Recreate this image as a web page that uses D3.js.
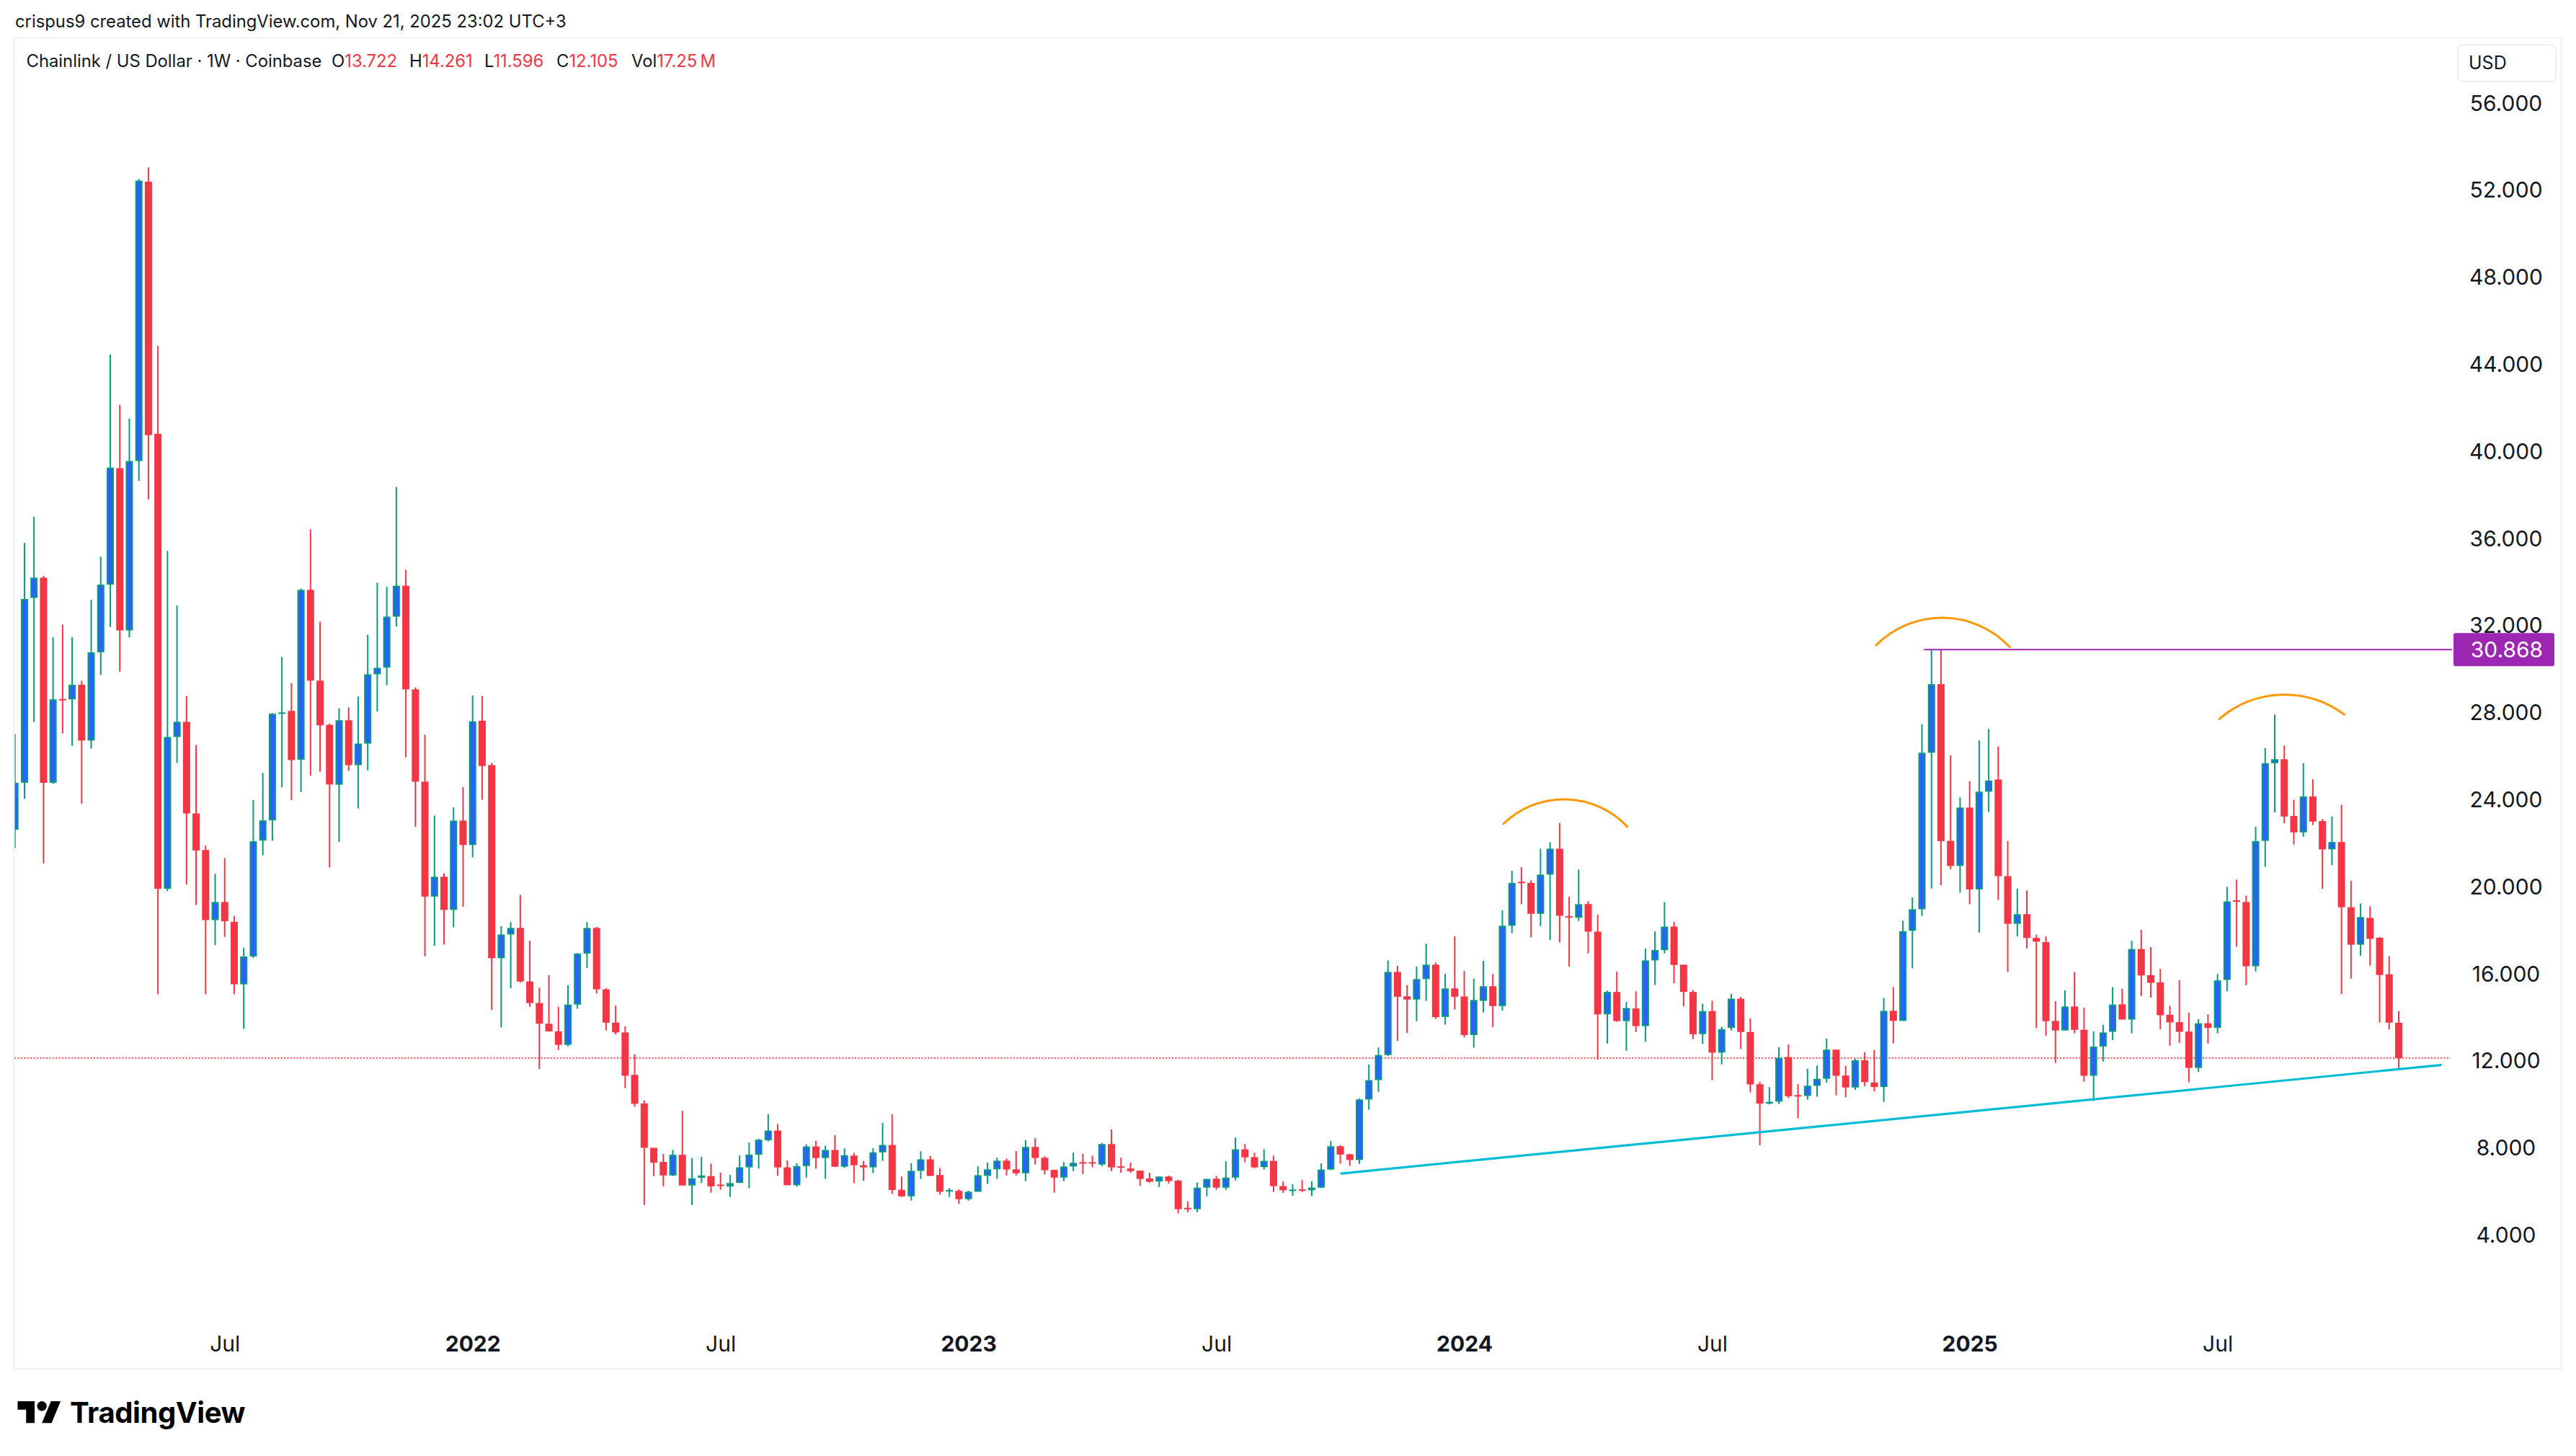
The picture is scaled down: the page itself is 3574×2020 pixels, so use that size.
<!DOCTYPE html>
<html>
<head>
<meta charset="utf-8">
<script src="https://cdn.jsdelivr.net/npm/d3@7"></script>
<style>
  body { margin: 0; background: #fff; }
  text { font-family: Inter, Roboto, "Noto Sans", sans-serif; }
</style>
</head>
<body>
<script>
// Chainlink / US Dollar, weekly candles from Coinbase (Feb 2021 - Nov 2025)
var firstWeek = "2021-02-01", lastWeek = "2025-11-18";

var open = [
  22.59, 24.75, 33.24, 34.17, 24.75, 28.60, 28.58, 29.25, 26.69, 30.74,
  33.85, 39.20, 31.75, 39.53, 52.36, 40.78, 19.88, 26.85, 27.55, 23.34,
  21.66, 18.44, 19.27, 18.36, 15.49, 16.77, 22.09, 23.02, 27.95, 28.05,
  25.81, 33.61, 29.44, 27.41, 24.66, 27.62, 25.56, 26.55, 29.73, 30.04,
  32.38, 33.80, 29.04, 24.80, 19.52, 20.43, 18.91, 23.01, 21.89, 27.60,
  25.56, 16.69, 17.78, 18.08, 15.62, 14.63, 13.68, 13.33, 12.71, 14.56,
  16.90, 18.08, 15.26, 13.73, 13.28, 11.33, 10.02, 7.98, 7.33, 6.71,
  7.66, 6.25, 6.60, 6.68, 6.29, 6.20, 6.37, 7.08, 7.66, 8.33,
  8.77, 7.08, 6.26, 7.14, 8.04, 7.51, 7.88, 7.11, 7.62, 7.18,
  7.08, 7.77, 8.11, 6.05, 5.75, 6.92, 7.45, 6.73, 5.99, 6.00,
  5.62, 5.96, 6.69, 6.99, 7.39, 6.99, 6.81, 8.02, 7.52, 6.96,
  6.61, 7.12, 7.32, 7.32, 7.21, 8.15, 7.13, 7.03, 6.93, 6.57,
  6.43, 6.66, 6.47, 5.22, 5.16, 6.15, 6.56, 6.15, 6.61, 7.91,
  7.55, 7.09, 7.38, 6.22, 6.05, 6.07, 6.03, 6.15, 6.98, 8.05,
  7.68, 7.42, 10.20, 11.09, 12.24, 16.06, 14.94, 14.79, 15.73, 16.39,
  13.99, 15.30, 14.93, 13.16, 14.73, 15.40, 14.49, 18.18, 20.20, 20.15,
  18.73, 20.53, 21.72, 18.62, 18.55, 19.18, 17.91, 14.11, 15.14, 13.80,
  14.38, 13.57, 16.59, 17.06, 18.14, 16.39, 15.14, 13.20, 14.26, 12.35,
  13.49, 14.83, 13.30, 10.90, 10.01, 10.10, 12.15, 10.40, 10.36, 10.83,
  11.15, 12.49, 11.30, 10.75, 12.00, 10.98, 10.77, 14.27, 13.81, 17.95,
  18.94, 26.13, 29.28, 22.08, 20.93, 23.61, 19.85, 24.34, 24.90, 20.46,
  18.27, 18.71, 17.62, 17.43, 13.81, 13.37, 14.47, 13.40, 11.29, 12.63,
  13.31, 14.57, 13.87, 17.11, 15.91, 15.58, 14.09, 13.75, 13.32, 11.65,
  13.70, 13.49, 15.69, 19.35, 19.27, 16.32, 22.08, 25.65, 25.83, 23.22,
  22.47, 24.12, 22.99, 21.69, 22.03, 19.03, 17.31, 18.54, 17.63, 15.95,
  13.722
];
var high = [
  26.99, 35.77, 36.97, 34.25, 31.43, 32.02, 31.43, 29.44, 33.16, 35.13,
  44.42, 42.11, 41.49, 52.49, 53.02, 44.82, 35.40, 32.89, 28.72, 26.48,
  21.87, 20.57, 21.29, 18.63, 17.17, 23.95, 25.20, 27.95, 30.53, 29.33,
  33.67, 36.38, 32.15, 27.47, 28.17, 28.21, 28.71, 31.55, 33.94, 33.75,
  38.34, 34.53, 29.13, 26.96, 23.24, 20.59, 23.62, 24.55, 28.76, 28.73,
  25.66, 18.16, 18.35, 19.60, 17.49, 15.34, 15.91, 14.46, 15.45, 16.93,
  18.35, 18.13, 15.31, 14.51, 13.56, 12.28, 10.16, 7.98, 7.69, 7.88,
  9.68, 7.51, 7.56, 7.25, 6.84, 6.73, 7.63, 8.22, 8.40, 9.52,
  9.08, 7.40, 7.27, 8.14, 8.30, 8.08, 8.56, 7.95, 7.75, 7.38,
  7.96, 9.12, 9.52, 6.66, 7.27, 7.82, 7.61, 7.05, 6.13, 6.07,
  6.01, 7.13, 7.30, 7.53, 7.49, 7.83, 8.33, 8.42, 7.59, 6.98,
  7.32, 7.76, 7.70, 7.62, 8.21, 8.82, 7.53, 7.30, 6.93, 6.83,
  6.66, 6.70, 6.51, 5.51, 6.39, 6.55, 6.69, 7.36, 8.45, 8.15,
  7.75, 7.92, 7.62, 6.43, 6.32, 6.50, 6.44, 7.26, 8.29, 8.10,
  7.71, 10.24, 11.81, 12.59, 16.59, 16.34, 15.45, 16.31, 17.36, 16.49,
  15.97, 17.70, 16.10, 15.75, 16.57, 15.97, 18.89, 20.71, 20.87, 20.27,
  21.72, 22.02, 22.90, 19.51, 20.76, 19.31, 18.69, 15.20, 16.07, 14.68,
  15.17, 17.14, 17.92, 19.26, 18.36, 16.39, 15.23, 14.60, 14.74, 13.54,
  15.05, 14.91, 13.92, 11.01, 10.77, 12.60, 12.73, 10.90, 11.61, 11.75,
  13.00, 12.49, 11.75, 12.06, 12.37, 12.48, 14.86, 15.36, 18.41, 19.48,
  27.44, 30.868, 30.84, 26.01, 24.08, 24.82, 26.69, 27.22, 26.42, 22.08,
  19.88, 19.80, 17.77, 17.69, 14.71, 15.21, 16.05, 14.42, 13.33, 13.63,
  15.36, 15.29, 17.49, 17.99, 17.20, 16.20, 14.50, 15.68, 14.19, 13.89,
  14.12, 15.96, 19.97, 20.30, 19.57, 22.72, 26.35, 27.88, 26.46, 23.97,
  25.65, 24.91, 23.08, 23.19, 23.74, 20.24, 19.20, 19.07, 17.67, 16.78,
  14.261
];
var low = [
  21.74, 24.01, 27.55, 21.05, 24.70, 27.01, 26.45, 23.79, 26.32, 29.70,
  31.91, 29.86, 31.43, 38.62, 37.77, 15.03, 19.77, 25.66, 20.07, 19.13,
  15.03, 17.30, 17.67, 15.03, 13.44, 16.70, 21.42, 22.09, 24.54, 23.95,
  24.32, 25.07, 25.26, 20.86, 22.03, 25.30, 23.57, 25.32, 28.02, 29.23,
  31.93, 25.92, 22.72, 16.78, 17.26, 17.32, 18.11, 19.05, 21.32, 23.97,
  14.32, 13.51, 15.31, 15.57, 14.46, 11.60, 13.32, 12.47, 12.64, 14.37,
  16.23, 15.07, 13.37, 13.19, 10.72, 9.87, 5.35, 6.68, 6.21, 6.68,
  6.25, 5.35, 6.36, 5.92, 6.05, 5.72, 6.36, 6.12, 7.03, 8.27,
  6.70, 6.26, 6.19, 6.61, 7.02, 6.55, 7.11, 7.05, 6.36, 6.47,
  6.82, 7.38, 5.86, 5.72, 5.56, 6.55, 6.68, 5.83, 5.72, 5.41,
  5.55, 5.96, 6.32, 6.55, 6.71, 6.71, 6.45, 7.21, 6.75, 5.92,
  6.45, 6.91, 6.78, 7.08, 7.14, 6.91, 6.83, 6.83, 6.24, 6.38,
  6.18, 6.34, 4.96, 5.02, 5.02, 5.75, 6.05, 6.05, 6.48, 7.31,
  7.04, 6.98, 5.95, 5.91, 5.78, 5.95, 5.76, 6.13, 6.95, 7.25,
  7.15, 7.24, 9.73, 10.55, 12.20, 12.89, 13.26, 13.80, 14.73, 13.90,
  13.64, 14.33, 13.05, 12.58, 14.20, 13.52, 14.29, 17.84, 19.17, 17.65,
  18.17, 17.52, 17.41, 16.31, 18.40, 16.91, 12.03, 12.77, 13.77, 12.44,
  13.29, 12.86, 15.46, 16.91, 15.54, 14.48, 12.97, 12.75, 11.08, 11.81,
  13.37, 12.52, 10.52, 8.10, 9.97, 9.99, 10.26, 9.33, 10.19, 10.33,
  10.97, 10.39, 10.30, 10.64, 10.81, 10.57, 10.09, 12.78, 13.81, 16.22,
  18.63, 19.89, 20.05, 20.78, 19.70, 19.17, 17.87, 23.41, 19.36, 16.06,
  17.69, 17.14, 13.48, 13.13, 11.88, 13.37, 13.24, 11.02, 10.13, 11.94,
  12.93, 13.87, 13.24, 14.95, 14.88, 13.43, 12.67, 12.80, 10.99, 11.46,
  12.77, 13.24, 15.17, 17.22, 15.45, 16.08, 20.89, 23.39, 22.88, 21.91,
  22.27, 22.81, 19.88, 20.96, 15.04, 15.76, 16.80, 16.35, 13.73, 13.42,
  11.596
];
var close = [
  24.75, 33.19, 34.17, 24.75, 28.58, 28.55, 29.25, 26.69, 30.74, 33.85,
  39.23, 31.75, 39.53, 52.41, 40.72, 19.88, 26.85, 27.55, 23.34, 21.64,
  18.44, 19.27, 18.39, 15.49, 16.77, 22.06, 23.02, 27.92, 27.98, 25.79,
  33.61, 29.44, 27.39, 24.67, 27.62, 25.56, 26.55, 29.73, 30.03, 32.38,
  33.80, 29.04, 24.80, 19.52, 20.43, 18.91, 23.01, 21.89, 27.57, 25.52,
  16.69, 17.78, 18.08, 15.62, 14.63, 13.68, 13.33, 12.71, 14.56, 16.90,
  18.08, 15.26, 13.73, 13.28, 11.29, 10.00, 7.98, 7.30, 6.71, 7.66,
  6.25, 6.58, 6.71, 6.21, 6.23, 6.36, 7.08, 7.67, 8.35, 8.77,
  7.08, 6.26, 7.14, 8.04, 7.51, 7.88, 7.11, 7.64, 7.18, 7.08,
  7.77, 8.11, 6.04, 5.75, 6.92, 7.45, 6.69, 5.96, 6.04, 5.62,
  5.96, 6.72, 6.99, 7.39, 6.98, 6.81, 8.02, 7.51, 6.95, 6.61,
  7.12, 7.29, 7.28, 7.28, 8.15, 7.08, 7.09, 6.91, 6.55, 6.42,
  6.66, 6.45, 5.16, 5.17, 6.15, 6.55, 6.15, 6.61, 7.91, 7.54,
  7.08, 7.38, 6.22, 6.03, 6.06, 6.05, 6.15, 6.98, 8.05, 7.67,
  7.42, 10.20, 11.09, 12.24, 16.06, 14.92, 14.79, 15.73, 16.39, 13.98,
  15.30, 14.92, 13.16, 14.77, 15.40, 14.49, 18.18, 20.15, 20.18, 18.73,
  20.53, 21.72, 18.64, 18.60, 19.17, 17.91, 14.11, 15.14, 13.80, 14.40,
  13.57, 16.59, 17.06, 18.14, 16.38, 15.14, 13.20, 14.26, 12.35, 13.43,
  14.83, 13.30, 10.89, 10.01, 10.09, 12.11, 10.35, 10.36, 10.83, 11.15,
  12.49, 11.29, 10.75, 12.00, 11.00, 10.77, 14.27, 13.81, 17.93, 18.94,
  26.13, 29.28, 22.07, 20.93, 23.61, 19.85, 24.34, 24.85, 20.46, 18.27,
  18.71, 17.62, 17.45, 13.80, 13.37, 14.47, 13.40, 11.29, 12.63, 13.28,
  14.56, 13.87, 17.11, 15.90, 15.56, 14.07, 13.74, 13.31, 11.65, 13.70,
  13.49, 15.67, 19.30, 19.30, 16.32, 22.07, 25.65, 25.83, 23.20, 22.47,
  24.12, 22.97, 21.69, 22.03, 19.03, 17.31, 18.58, 17.58, 15.92, 13.73,
  12.105
];

var priceTicks = [4, 8, 12, 16, 20, 24, 28, 32, 36, 40, 44, 48, 52, 56];
var timeTicks = ["2021-07-05", "2022-01-03", "2022-07-04", "2023-01-02", "2023-07-03",
                 "2024-01-01", "2024-07-01", "2025-01-06", "2025-07-07"];

// drawings on the chart, points given as [week number, price]
var trendLine = [[139.1, 6.80], [254.4, 11.78]];
var tops = [
  [[156.1, 22.86], [162.6, 23.99], [169.1, 22.73]],
  [[195.2, 31.07], [202.2, 32.33], [209.2, 30.99]],
  [[231.2, 27.68], [238.0, 28.80], [244.3, 27.88]]
];
var resistStart = 200.2, resistPrice = 30.868;
var lastPrice = 12.105;

var W = 3574, H = 2020;
var pane = {left: 20, right: 3402, top: 53, bottom: 1898};

var upColor = "#089981", upFill = "#2962ff", downColor = "#f23645", ink = "#131722";
var axisFont = 30, headFont = 23.8;

var svg = d3.select("body").append("svg")
    .attr("width", W)
    .attr("height", H);

svg.append("rect").attr("width", W).attr("height", H).attr("fill", "#fff");

var dates = d3.utcMonday.range(new Date(firstWeek), new Date(lastWeek));
var candles = dates.map(function(d, i) {
  return {date: d, o: open[i], h: high[i], l: low[i], c: close[i], up: close[i] >= open[i]};
});

var x = d3.scaleUtc()
    .domain([dates[0], dates[dates.length - 1]])
    .range([20.7, 3328]);
var y = d3.scaleLinear()
    .domain([0, 56])
    .range([1833.4, 142.2]);

var WEEK = 7 * 864e5;
function xw(w) { return x(new Date(dates[0].getTime() + w * WEEK)); }

svg.append("clipPath").attr("id", "pane")
  .append("rect")
    .attr("x", pane.left).attr("y", pane.top)
    .attr("width", pane.right - pane.left).attr("height", pane.bottom - pane.top);

var plot = svg.append("g").attr("clip-path", "url(#pane)");

// last price, dotted
plot.append("line")
    .attr("x1", pane.left).attr("x2", pane.right - 2)
    .attr("y1", y(lastPrice)).attr("y2", y(lastPrice))
    .attr("stroke", downColor)
    .attr("stroke-width", 1.6)
    .attr("stroke-dasharray", "2,2.4");

// wicks
plot.selectAll(".wick")
    .data(candles)
  .enter().append("line")
    .attr("class", "wick")
    .attr("x1", function(d) { return x(d.date); })
    .attr("x2", function(d) { return x(d.date); })
    .attr("y1", function(d) { return y(d.h); })
    .attr("y2", function(d) { return y(d.l); })
    .attr("stroke", function(d) { return d.up ? upColor : downColor; })
    .attr("stroke-width", 2);

// bodies
plot.selectAll(".body")
    .data(candles)
  .enter().append("rect")
    .attr("class", "body")
    .attr("x", function(d) { return x(d.date) - 5; })
    .attr("y", function(d) { return y(Math.max(d.o, d.c)); })
    .attr("width", 10)
    .attr("height", function(d) { return Math.max(2, Math.abs(y(d.o) - y(d.c))); })
    .attr("fill", function(d) { return d.up ? upColor : downColor; });

// blue fill inside the up bodies
plot.selectAll(".fill")
    .data(candles.filter(function(d) { return d.up && Math.abs(y(d.o) - y(d.c)) > 5; }))
  .enter().append("rect")
    .attr("class", "fill")
    .attr("x", function(d) { return x(d.date) - 3; })
    .attr("y", function(d) { return y(d.c) + 2; })
    .attr("width", 6)
    .attr("height", function(d) { return Math.abs(y(d.o) - y(d.c)) - 4; })
    .attr("fill", upFill);

// rising support line
plot.append("line")
    .attr("x1", xw(trendLine[0][0])).attr("y1", y(trendLine[0][1]))
    .attr("x2", xw(trendLine[1][0])).attr("y2", y(trendLine[1][1]))
    .attr("stroke", "#00bcd4")
    .attr("stroke-width", 3.2)
    .attr("stroke-linecap", "round");

// horizontal line at the 2024 high
plot.append("line")
    .attr("x1", xw(resistStart)).attr("x2", pane.right)
    .attr("y1", y(resistPrice)).attr("y2", y(resistPrice))
    .attr("stroke", "#9c27b0")
    .attr("stroke-width", 2);

// arcs over the three tops (circle through three points)
function arcPath(pts) {
  var a = pts[0], b = pts[1], c = pts[2];
  var d = 2 * (a[0] * (b[1] - c[1]) + b[0] * (c[1] - a[1]) + c[0] * (a[1] - b[1]));
  var sa = a[0] * a[0] + a[1] * a[1], sb = b[0] * b[0] + b[1] * b[1], sc = c[0] * c[0] + c[1] * c[1];
  var ux = (sa * (b[1] - c[1]) + sb * (c[1] - a[1]) + sc * (a[1] - b[1])) / d;
  var uy = (sa * (c[0] - b[0]) + sb * (a[0] - c[0]) + sc * (b[0] - a[0])) / d;
  var r = Math.hypot(a[0] - ux, a[1] - uy);
  return "M" + a[0] + "," + a[1] + "A" + r + "," + r + " 0 0 1 " + c[0] + "," + c[1];
}
plot.selectAll(".top")
    .data(tops)
  .enter().append("path")
    .attr("class", "top")
    .attr("d", function(t) {
      return arcPath(t.map(function(p) { return [xw(p[0]), y(p[1])]; }));
    })
    .attr("fill", "none")
    .attr("stroke", "#ff9800")
    .attr("stroke-width", 3)
    .attr("stroke-linecap", "round");

// price axis
var yAxis = svg.append("g")
    .attr("transform", "translate(3477,0)")
    .call(d3.axisRight(y).tickValues(priceTicks).tickSize(0).tickPadding(0)
      .tickFormat(d3.format(".3f")));
yAxis.select(".domain").remove();
yAxis.attr("font-family", null).attr("font-size", axisFont);
yAxis.selectAll("text")
    .attr("text-anchor", "middle")
    .attr("dy", "0.36em")
    .attr("fill", ink);

// time axis
var xAxis = svg.append("g")
    .attr("transform", "translate(0,1864)")
    .call(d3.axisBottom(x)
      .tickValues(timeTicks.map(function(t) { return new Date(t); }))
      .tickSize(0).tickPadding(0)
      .tickFormat(function(d) { return d.getUTCMonth() === 0 ? d.getUTCFullYear() : "Jul"; }));
xAxis.select(".domain").remove();
xAxis.attr("font-family", null).attr("font-size", axisFont);
xAxis.selectAll("text")
    .attr("dy", "0.36em")
    .attr("fill", ink)
    .attr("font-weight", function(d) { return d.getUTCMonth() === 0 ? 700 : 400; });

// label of the horizontal line
svg.append("rect")
    .attr("x", 3404).attr("y", y(resistPrice) - 23)
    .attr("width", 140).attr("height", 46)
    .attr("rx", 3)
    .attr("fill", "#9c27b0");
svg.append("text")
    .attr("x", 3478).attr("y", y(resistPrice))
    .attr("dy", "0.36em")
    .attr("text-anchor", "middle")
    .attr("font-size", axisFont)
    .attr("fill", "#fff")
    .text(d3.format(".3f")(resistPrice));

// currency box
svg.append("rect")
    .attr("x", 3410).attr("y", 62).attr("width", 136).attr("height", 51)
    .attr("rx", 7)
    .attr("fill", "#fff")
    .attr("stroke", "#e9ecf2")
    .attr("stroke-width", 1.5);
svg.append("text")
    .attr("x", 3425).attr("y", 96)
    .attr("font-size", 25)
    .attr("fill", ink)
    .text("USD");

// frame
svg.append("rect")
    .attr("x", 19.5).attr("y", 52.5)
    .attr("width", 3554 - 19.5).attr("height", 1899 - 52.5)
    .attr("fill", "none")
    .attr("stroke", "#eff1f5")
    .attr("stroke-width", 2);

// header lines
svg.append("text")
    .attr("x", 21).attr("y", 38)
    .attr("font-size", headFont)
    .attr("fill", ink)
    .text("crispus9 created with TradingView.com, Nov 21, 2025 23:02 UTC+3");

svg.append("text")
    .attr("x", 36.5).attr("y", 93)
    .attr("font-size", headFont)
    .attr("fill", ink)
    .text("Chainlink / US Dollar \u00b7 1W \u00b7 Coinbase");

var legend = [
  {k: "O", v: "13.722", x: 460},
  {k: "H", v: "14.261", x: 568},
  {k: "L", v: "11.596", x: 672},
  {k: "C", v: "12.105", x: 772},
  {k: "Vol", v: "17.25\u2009M", x: 876}
];
var lg = svg.selectAll(".legend")
    .data(legend)
  .enter().append("text")
    .attr("class", "legend")
    .attr("x", function(d) { return d.x; })
    .attr("y", 93)
    .attr("font-size", headFont);
lg.append("tspan").attr("fill", ink).text(function(d) { return d.k; });
lg.append("tspan").attr("fill", downColor).text(function(d) { return d.v; });

// TradingView logo
var logo = svg.append("g").attr("transform", "translate(24.5,1937.3) scale(1.68)");
logo.append("path").attr("d", "M14 22H7V11H0V4h14v18zM28 22h-8l7.5-18h8L28 22z").attr("fill", "#000");
logo.append("circle").attr("cx", 20).attr("cy", 8).attr("r", 4).attr("fill", "#000");
svg.append("text")
    .attr("x", 97).attr("y", 1974)
    .attr("font-size", 40)
    .attr("font-weight", 700)
    .attr("letter-spacing", -0.4)
    .attr("fill", "#000")
    .text("TradingView");
</script>
</body>
</html>
